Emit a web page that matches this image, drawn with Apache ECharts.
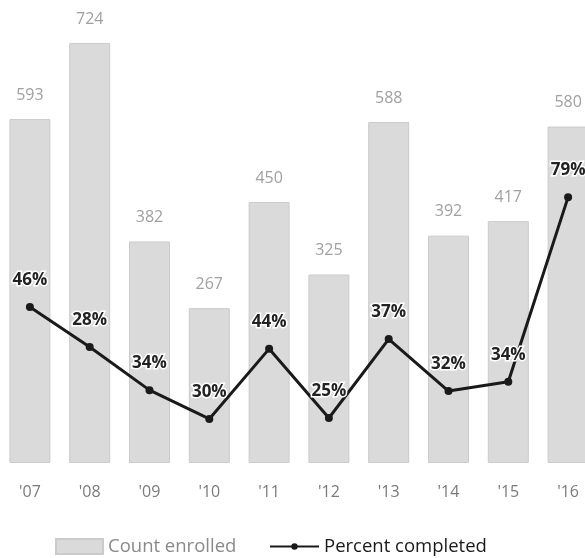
<!DOCTYPE html>
<html><head><meta charset="utf-8">
<script src="https://cdn.jsdelivr.net/npm/echarts@6/dist/echarts.min.js"></script>
<style>html,body{margin:0;padding:0;background:#fff}#c{width:585px;height:558px}</style>
</head><body><div id="c"></div>
<script>
const years = ["'07","'08","'09","'10","'11","'12","'13","'14","'15","'16"];
const countEnrolled = [593, 724, 382, 267, 450, 325, 588, 392, 417, 580];
const percentCompleted = [46, 28, 34, 30, 44, 25, 37, 32, 34, 79];
// line heights as drawn in the picture (hidden 0-100 scale)
const percentLineHeight = [33.6, 25.0, 15.7, 9.5, 24.6, 9.7, 26.7, 15.5, 17.5, 57.3];

const chart = echarts.init(document.getElementById('c'));
chart.setOption({
  animation: false,
  backgroundColor: '#fff',
  grid: { left: 0, right: -13, top: -1, bottom: 95, outerBoundsMode: 'none', containLabel: false },
  xAxis: {
    type: 'category', data: years,
    axisLine: { show: false }, axisTick: { show: false },
    axisLabel: { color: '#7a7a7a', fontSize: 16, fontFamily: 'Open Sans', margin: 21 }
  },
  yAxis: [
    { type: 'value', min: 0, max: 800, show: false, splitLine: { show: false } },
    { type: 'value', min: 0, max: 100, show: false, splitLine: { show: false } }
  ],
  legend: [
    {
      left: 50, top: 532, padding: 5,
      itemWidth: 47, itemHeight: 15,
      textStyle: { fontSize: 18.5, fontFamily: 'Open Sans', color: '#8a8a8a' },
      data: [{ name: 'Count enrolled', icon: 'rect' }]
    },
    {
      left: 264, top: 532, padding: 5,
      itemWidth: 49, itemHeight: 8,
      textStyle: { fontSize: 18.5, fontFamily: 'Open Sans', color: '#1a1a1a' },
      data: [{ name: 'Percent completed' }]
    }
  ],
  series: [
    {
      name: 'Count enrolled', type: 'bar', data: countEnrolled, barWidth: 41,
      itemStyle: { color: '#dadada', borderColor: '#cbcbcb', borderWidth: 1 },
      label: { show: true, position: 'top', distance: 16, color: '#a0a0a0', fontSize: 16, fontFamily: 'Open Sans' }
    },
    {
      name: 'Percent completed', type: 'line', yAxisIndex: 1,
      data: percentLineHeight,
      symbol: 'circle', symbolSize: 8,
      lineStyle: { color: '#1a1a1a', width: 3 },
      itemStyle: { color: '#1a1a1a' },
      label: {
        show: true, position: 'top', distance: 14,
        formatter: p => percentCompleted[p.dataIndex] + '%',
        color: '#222', fontSize: 17, fontWeight: 'bold', fontFamily: 'Open Sans',
        textBorderColor: '#fff', textBorderWidth: 3
      }
    }
  ]
});
</script></body></html>
